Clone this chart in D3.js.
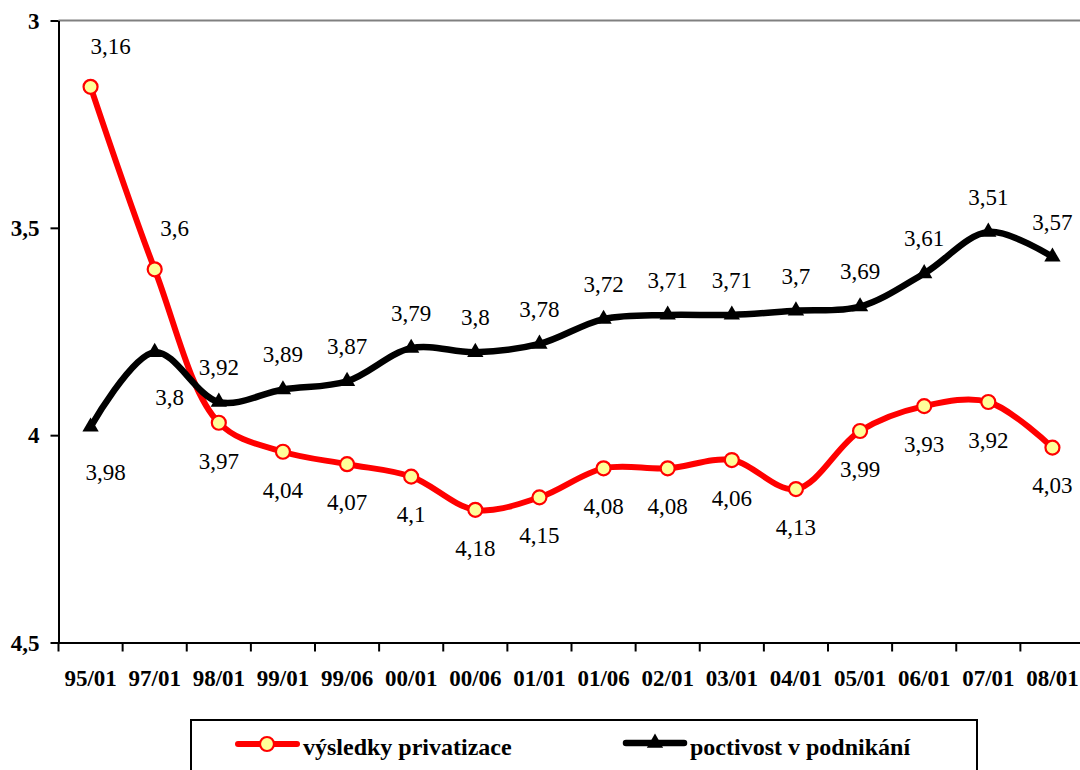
<!DOCTYPE html>
<html><head><meta charset="utf-8">
<script src="https://cdn.jsdelivr.net/npm/d3@7"></script>
</head>
<body style="margin:0">
<svg id="c" width="1080" height="770" style="display:block"></svg>
<script>
const categories = ["95/01","97/01","98/01","99/01","99/06","00/01","00/06","01/01","01/06","02/01","03/01","04/01","05/01","06/01","07/01","08/01"];
const privatizace = [3.16,3.6,3.97,4.04,4.07,4.1,4.18,4.15,4.08,4.08,4.06,4.13,3.99,3.93,3.92,4.03];
const poctivost = [3.98,3.8,3.92,3.89,3.87,3.79,3.8,3.78,3.72,3.71,3.71,3.7,3.69,3.61,3.51,3.57];
const yTicks = [3,3.5,4,4.5];
const seriesNames = ["výsledky privatizace","poctivost v podnikání"];
// label placement: ar = above-right, b = below, br = below-right, a = above
const privLabelPlace = ["ar","ar","b","b","b","b","b","b","b","b","b","b","b","b","b","b"];
const poctLabelPlace = ["br","br","a","a","a","a","a","a","a","a","a","a","a","a","a","a"];

const svg = d3.select("#c");
const FONT = "Liberation Serif";
const x = d3.scaleBand().domain(categories).range([58.5,1084.5]).padding(0);
const y = d3.scaleLinear().domain([3,4.5]).range([20.5,642.5]);
const cx = d => x(d) + x.bandwidth()/2;
const fmt = v => String(v).replace(".", ",");

svg.append("line").attr("x1",58.5).attr("x2",1080).attr("y1",y(3)).attr("y2",y(3))
  .attr("stroke","#808080").attr("stroke-width",2);

const yAxis = svg.append("g").attr("transform","translate(58.5,0)")
  .call(d3.axisLeft(y).tickValues(yTicks).tickSize(8).tickSizeOuter(0).tickFormat(fmt));
yAxis.attr("font-family",FONT).attr("font-size",23);
yAxis.select(".domain").attr("stroke","#000").attr("stroke-width",2);
yAxis.selectAll(".tick line").attr("stroke","#000").attr("stroke-width",2);
yAxis.selectAll(".tick text").attr("font-family",FONT).attr("font-weight","bold")
  .attr("font-size",23).attr("fill","#000").attr("x",-19).attr("dy","0.34em");

const xAxis = svg.append("g").attr("transform",`translate(0,${y(4.5)})`)
  .call(d3.axisBottom(x).tickSize(0).tickSizeOuter(0));
xAxis.attr("font-family",FONT).attr("font-size",23);
xAxis.select(".domain").attr("stroke","#000").attr("stroke-width",2);
xAxis.selectAll(".tick text").attr("font-family",FONT).attr("font-weight","bold")
  .attr("font-size",23).attr("fill","#000").attr("y",43).attr("dy",0);
xAxis.selectAll("line.bt").data(categories).enter().append("line").attr("class","bt")
  .attr("x1",d=>x(d)).attr("x2",d=>x(d)).attr("y1",0).attr("y2",9)
  .attr("stroke","#000").attr("stroke-width",2);

const line = d3.line().x((d,i)=>cx(categories[i])).y(d=>y(d)).curve(d3.curveCatmullRom.alpha(0.5));

const gRed = svg.append("g");
gRed.append("path").datum(privatizace).attr("d",line).attr("fill","none")
  .attr("stroke","#ff0000").attr("stroke-width",6).attr("stroke-linejoin","round");

const gBlack = svg.append("g");
gBlack.append("path").datum(poctivost).attr("d",line).attr("fill","none")
  .attr("stroke","#000").attr("stroke-width",6.5).attr("stroke-linejoin","round");

const tri = d3.symbol(d3.symbolTriangle).size(115);
gBlack.selectAll("path.m").data(poctivost).enter().append("path").attr("class","m")
  .attr("d",tri).attr("fill","#000")
  .attr("transform",(d,i)=>`translate(${cx(categories[i])},${y(d)})`);

gRed.selectAll("circle").data(privatizace).enter().append("circle")
  .attr("cx",(d,i)=>cx(categories[i])).attr("cy",d=>y(d)).attr("r",7)
  .attr("fill","#ffff99").attr("stroke","#ff0000").attr("stroke-width",2.2);

const off = {ar:[20,-41], a:[0,-35], b:[0,38], br:[15,45]};
function labels(vals, place, cls){
  svg.selectAll("text."+cls).data(vals).enter().append("text").attr("class",cls)
    .attr("x",(d,i)=>cx(categories[i]) + off[place[i]][0])
    .attr("y",(d,i)=>y(d) + off[place[i]][1])
    .attr("dy","0.34em").attr("text-anchor","middle")
    .attr("font-family",FONT).attr("font-size",23).attr("fill","#000")
    .text(d=>fmt(d));
}
labels(privatizace, privLabelPlace, "lr");
labels(poctivost, poctLabelPlace, "lb");

const lg = svg.append("g");
lg.append("rect").attr("x",191).attr("y",720).attr("width",786).attr("height",70)
  .attr("fill","#fff").attr("stroke","#000").attr("stroke-width",2);
lg.append("line").attr("x1",238).attr("x2",297).attr("y1",744).attr("y2",744)
  .attr("stroke","#ff0000").attr("stroke-width",6).attr("stroke-linecap","round");
lg.append("circle").attr("cx",267).attr("cy",744).attr("r",7)
  .attr("fill","#ffff99").attr("stroke","#ff0000").attr("stroke-width",2.2);
lg.append("text").attr("x",303).attr("y",755).attr("font-family",FONT).attr("font-weight","bold")
  .attr("font-size",24).attr("fill","#000").text(seriesNames[0]);
lg.append("line").attr("x1",626).attr("x2",684).attr("y1",743).attr("y2",743)
  .attr("stroke","#000").attr("stroke-width",6.5).attr("stroke-linecap","round");
lg.append("path").attr("d",tri).attr("fill","#000").attr("transform","translate(655,743)");
lg.append("text").attr("x",690).attr("y",755).attr("font-family",FONT).attr("font-weight","bold")
  .attr("font-size",24).attr("fill","#000").text(seriesNames[1]);
</script>
</body></html>
